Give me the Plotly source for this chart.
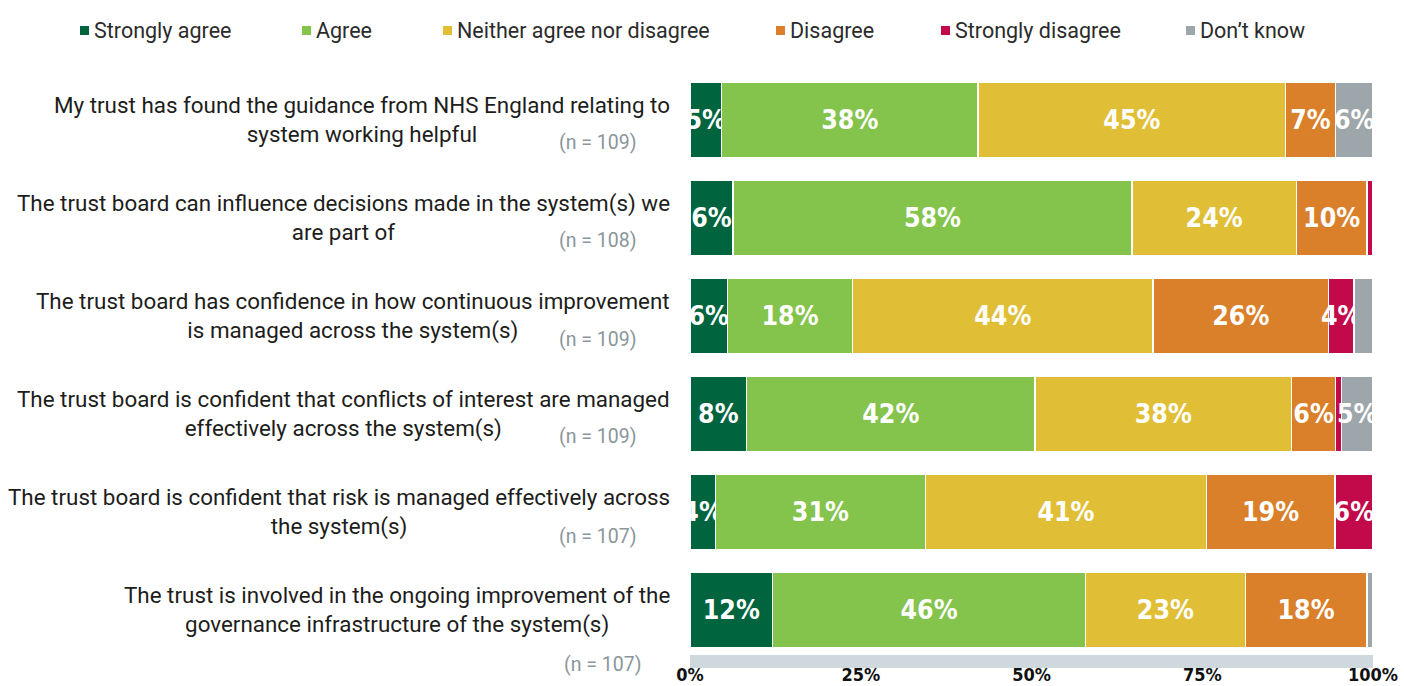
import plotly.graph_objects as go

# Survey statements (top to bottom) and respondents per statement
questions = [
    "My trust has found the guidance from NHS England relating to<br>system working helpful",
    "The trust board can influence decisions made in the system(s) we<br>are part of",
    "The trust board has confidence in how continuous improvement<br>is managed across the system(s)",
    "The trust board is confident that conflicts of interest are managed<br>effectively across the system(s)",
    "The trust board is confident that risk is managed effectively across<br>the system(s)",
    "The trust is involved in the ongoing improvement of the<br>governance infrastructure of the system(s)",
]
sample_sizes = [109, 108, 109, 109, 107, 107]

responses = ["Strongly agree", "Agree", "Neither agree nor disagree",
             "Disagree", "Strongly disagree", "Don\u2019t know"]

# Share of respondents (%) per response option, one value per statement
strongly_agree = [4.6, 6.3, 5.5, 8.3, 3.7, 12.1]
agree = [37.6, 58.4, 18.3, 42.2, 30.8, 45.8]
neither = [45.0, 24.1, 44.0, 37.6, 41.1, 23.4]
disagree = [7.3, 10.3, 25.7, 6.4, 18.8, 17.8]
strongly_disagree = [0.0, 0.9, 3.7, 0.9, 5.6, 0.0]
dont_know = [5.5, 0.0, 2.8, 4.6, 0.0, 0.9]

x_ticks = [0, 25, 50, 75, 100]
x_tick_labels = ["0%", "25%", "50%", "75%", "100%"]

series = [strongly_agree, agree, neither, disagree, strongly_disagree, dont_know]
colors = ["#00643f", "#84c34c", "#e0bf37", "#da7f2a", "#c20a4a", "#9da6aa"]

W, H = 1404, 686
M_L, M_R, M_T, M_B = 690, 31, 71, 31
PLOT_W = W - M_L - M_R
PLOT_H = H - M_T - M_B

TEXT_FONT = "Roboto, Lato, sans-serif"
BOLD_FONT = "DejaVu Sans Condensed, DejaVu Sans"


def px_x(px):
    return (px - M_L) / PLOT_W


def px_y(py):
    return (H - M_B - py) / PLOT_H


def pct_label(v):
    return f"{int(v + 0.5)}%" if v >= 3 else ""


fig = go.Figure()
for name, vals, col in zip(responses, series, colors):
    fig.add_trace(go.Bar(
        name=name,
        y=questions,
        x=vals,
        orientation="h",
        marker=dict(color=col, line=dict(color="white", width=1.5)),
        text=[pct_label(v) for v in vals],
        textposition="inside",
        insidetextanchor="middle",
        textangle=0,
        constraintext="none",
        cliponaxis=True,
        textfont=dict(family=BOLD_FONT, size=26.5, color="white", weight="bold"),
        hoverinfo="skip",
        showlegend=False,
    ))

# Statement labels, centred text block right-aligned against the bars
for q in questions:
    fig.add_annotation(
        x=px_x(672), xref="paper", y=q, yref="y",
        text=q, showarrow=False, xanchor="right", yanchor="middle",
        align="center",
        font=dict(family=TEXT_FONT, size=22.4, color="#1d1d1b"),
    )

# Sample size notes
n_shifts = [-23, -23, -24, -23, -25, -55]
n_right = [639, 639, 639, 639, 639, 644]
for q, n, dy, xr in zip(questions, sample_sizes, n_shifts, n_right):
    fig.add_annotation(
        x=px_x(xr), xref="paper", y=q, yref="y", yshift=dy,
        text=f"(n = {n})", showarrow=False, xanchor="right", yanchor="middle",
        font=dict(family=TEXT_FONT, size=19.5, color="#8a969b"),
    )

# Legend row across the top
legend_x = [80, 302, 443, 776, 941, 1186]
for name, col, lx in zip(responses, colors, legend_x):
    fig.add_shape(
        type="rect", xref="paper", yref="paper",
        x0=px_x(lx), x1=px_x(lx + 9), y0=px_y(35), y1=px_y(26),
        fillcolor=col, line=dict(width=0),
    )
    fig.add_annotation(
        x=px_x(lx + 12), xref="paper", y=px_y(30), yref="paper",
        text=name, showarrow=False, xanchor="left", yanchor="middle",
        font=dict(family=TEXT_FONT, size=21.5, color="#2b2b2b"),
    )

fig.update_layout(
    barmode="stack",
    bargap=0.2245,
    width=W, height=H,
    margin=dict(l=M_L, r=M_R, t=M_T, b=M_B, pad=0, autoexpand=False),
    paper_bgcolor="white",
    plot_bgcolor="white",
    xaxis=dict(
        range=[0, 100],
        tickvals=x_ticks, ticktext=x_tick_labels,
        showgrid=False, zeroline=False,
        showline=True, linecolor="#cfd8dc", linewidth=13,
        ticks="", automargin=False, ticklabelstandoff=-9,
        tickfont=dict(family=BOLD_FONT, size=18, color="#111111", weight="bold"),
        fixedrange=True,
    ),
    yaxis=dict(
        range=[5.46, -0.5],
        showticklabels=False, showgrid=False, zeroline=False, showline=False,
        ticks="", automargin=False, fixedrange=True,
    ),
)

fig.write_html("out.html")
